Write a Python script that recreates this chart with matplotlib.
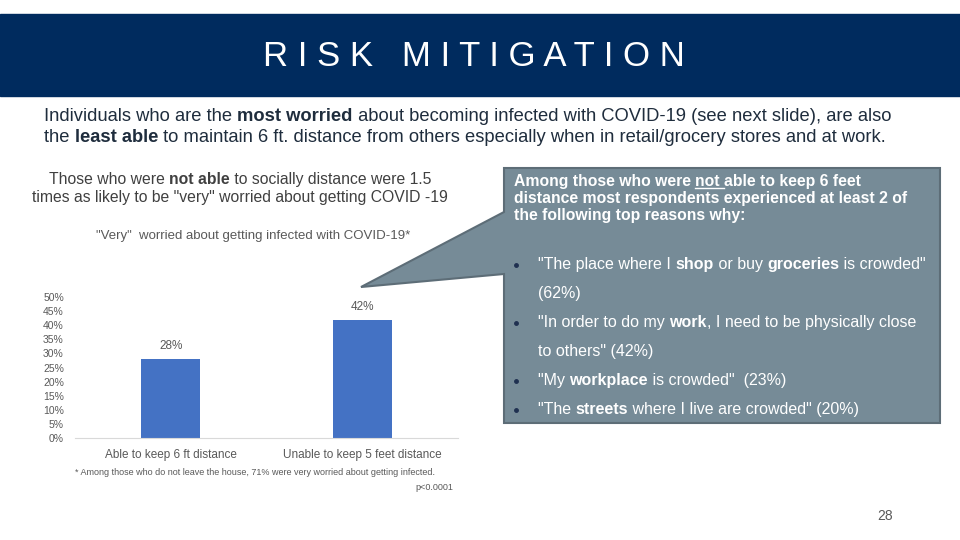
import numpy as np
import matplotlib
matplotlib.use('Agg')
import matplotlib.pyplot as plt
from matplotlib.patches import Rectangle, Polygon
from matplotlib.ticker import PercentFormatter

plt.rcParams['font.family'] = ['Liberation Sans', 'DejaVu Sans']

# data
categories = ['Able to keep 6 ft distance', 'Unable to keep 5 feet distance']
values = [0.28, 0.42]
value_labels = ['28%', '42%']
yticks = np.arange(0, 0.51, 0.05)

title = 'R I S K   M I T I G A T I O N'
chart_title = '"Very"  worried about getting infected with COVID-19*'
footnote = '* Among those who do not leave the house, 71% were very worried about getting infected.'
pvalue = 'p<0.0001'

reasons = [
    [[('"The place where I ', 'normal'), ('shop', 'bold'), (' or buy ', 'normal'),
      ('groceries', 'bold'), (' is crowded"', 'normal')],
     [('(62%)', 'normal')]],
    [[('"In order to do my ', 'normal'), ('work', 'bold'),
      (', I need to be physically close', 'normal')],
     [('to others" (42%)', 'normal')]],
    [[('"My ', 'normal'), ('workplace', 'bold'), (' is crowded"  (23%)', 'normal')]],
    [[('"The ', 'normal'), ('streets', 'bold'), (' where I live are crowded" (20%)', 'normal')]],
]

navy = '#002b5e'
bar_blue = '#4472c4'
box_gray = '#768b97'
text_gray = '#595959'

fig = plt.figure(figsize=(9.6, 5.4), dpi=100)
bg = fig.add_axes([0, 0, 1, 1])
bg.set_xlim(0, 960)
bg.set_ylim(540, 0)
bg.axis('off')
renderer = fig.canvas.get_renderer()


def runs(x, y, parts, size, color, ha='left', z=2):
    # draw a line made of normal/bold pieces
    items = []
    total = 0
    for txt, weight in parts:
        t = bg.text(0, y, txt, fontsize=size, fontweight=weight, color=color,
                    va='baseline', zorder=z)
        w = t.get_window_extent(renderer).width
        items.append((t, w))
        total += w
    if ha == 'center':
        x = x - total / 2
    for t, w in items:
        t.set_x(x)
        x += w
    return items


# header band
bg.add_patch(Rectangle((0, 14), 960, 82, color=navy, zorder=1))
bg.text(474, 56, title, fontsize=25, color='white', ha='center', va='center', zorder=2)

# intro text
runs(44, 121, [('Individuals who are the ', 'normal'), ('most worried', 'bold'),
               (' about becoming infected with COVID-19 (see next slide), are also', 'normal')],
     13.2, '#1f2d3d')
runs(44, 142, [('the ', 'normal'), ('least able', 'bold'),
               (' to maintain 6 ft. distance from others especially when in retail/grocery stores and at work.', 'normal')],
     13.2, '#1f2d3d')

# left text
runs(240, 184, [('Those who were ', 'normal'), ('not able', 'bold'),
                (' to socially distance were 1.5', 'normal')], 11.3, '#404040', ha='center')
runs(240, 202, [('times as likely to be "very" worried about getting COVID -19', 'normal')],
     11.3, '#404040', ha='center')

# callout box with pointer
callout = Polygon([(504, 168), (940, 168), (940, 423), (504, 423), (504, 274),
                   (361, 287), (504, 212)], closed=True, facecolor=box_gray,
                  edgecolor='#5d6d77', linewidth=1.5, zorder=3)
bg.add_patch(callout)

head = runs(514, 186, [('Among those who were ', 'bold'), ('not ', 'bold'),
                       ('able to keep 6 feet', 'bold')], 11.3, 'white', z=4)
nt, nw = head[1]
bg.plot([nt.get_position()[0], nt.get_position()[0] + nw], [188, 188],
        color='white', lw=1, zorder=4)
for i, line in enumerate(['distance most respondents experienced at least 2 of',
                          'the following top reasons why:']):
    bg.text(514, 203 + 17 * i, line, fontsize=11.3, fontweight='bold',
            color='white', va='baseline', zorder=4)

yy = 269
for reason in reasons:
    bg.plot(516, yy - 4, 'o', color='#1f3050', ms=2.5, zorder=4)
    for line in reason:
        runs(538, yy, line, 11.5, 'white', z=4)
        yy += 29

# bar chart
ax = fig.add_axes([75 / 960, (540 - 438) / 540, (458 - 75) / 960, (438 - 297) / 540])
x = np.arange(len(categories))
ax.bar(x, values, width=0.31, color=bar_blue, zorder=2)
for xi, v, lab in zip(x, values, value_labels):
    ax.text(xi, v + 0.025, lab, ha='center', va='bottom', fontsize=8.5, color=text_gray)
ax.set_xlim(-0.5, 1.5)
ax.set_ylim(0, 0.5)
ax.set_yticks(yticks)
ax.yaxis.set_major_formatter(PercentFormatter(1.0, decimals=0))
ax.set_xticks(x)
ax.set_xticklabels(categories, fontsize=8.5, color=text_gray)
ax.tick_params(axis='y', labelsize=7.5, colors=text_gray, length=0, pad=8)
ax.tick_params(axis='x', length=0, pad=8)
for s in ['top', 'right', 'left']:
    ax.spines[s].set_visible(False)
ax.spines['bottom'].set_color('#d9d9d9')
ax.patch.set_alpha(0)

bg.text(253, 239, chart_title, fontsize=9.5, color=text_gray, ha='center', va='baseline')
bg.text(75, 475, footnote, fontsize=6.5, color=text_gray, va='baseline')
bg.text(453, 490, pvalue, fontsize=6.5, color=text_gray, ha='right', va='baseline')

# page number
bg.text(885, 520, '28', fontsize=10, color='#595959', ha='center', va='baseline')

fig.savefig('out.png', dpi=100)
